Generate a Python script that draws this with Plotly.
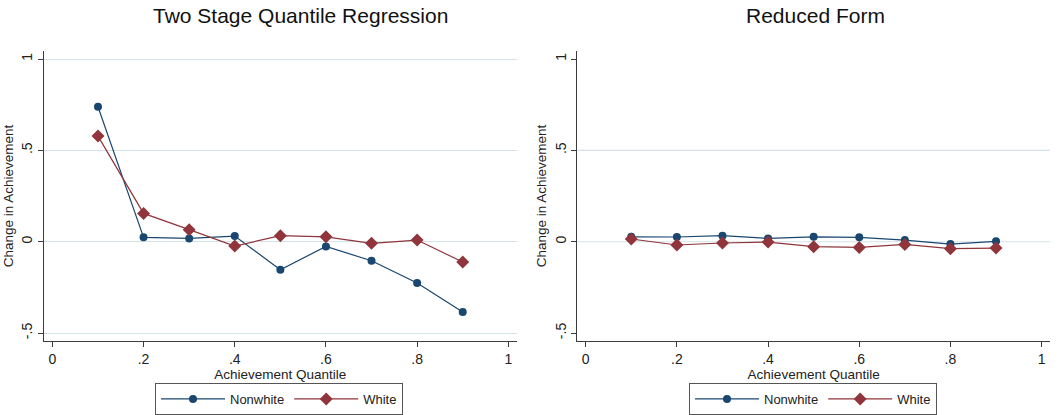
import plotly.graph_objects as go

QUANTILES = [0.1, 0.2, 0.3, 0.4, 0.5, 0.6, 0.7, 0.8, 0.9]

# Two Stage Quantile Regression
TSQR_NONWHITE = [0.739, 0.024, 0.018, 0.031, -0.153, -0.026, -0.104, -0.226, -0.385]
TSQR_WHITE = [0.578, 0.155, 0.066, -0.024, 0.033, 0.027, -0.009, 0.009, -0.111]

# Reduced Form
RF_NONWHITE = [0.027, 0.026, 0.033, 0.018, 0.027, 0.024, 0.009, -0.013, 0.002]
RF_WHITE = [0.015, -0.018, -0.007, -0.002, -0.027, -0.031, -0.015, -0.038, -0.035]

TITLES = ["Two Stage Quantile Regression", "Reduced Form"]
X_TICKS = [0, 0.2, 0.4, 0.6, 0.8, 1]
X_TICK_TEXT = ["0", ".2", ".4", ".6", ".8", "1"]
Y_TICKS = [-0.5, 0, 0.5, 1]
Y_TICK_TEXT = ["-.5", "0", ".5", "1"]
RIGHT_GRID = [0, 0.5]

NAVY = "#1a476f"
MAROON = "#90353b"
GRID = "#d3e3e7"
AXIS = "#3c3c3c"
FONT = "Liberation Sans, Arial, Helvetica, sans-serif"

fig = go.Figure()

panels = [
    ("x", "y", "legend", TSQR_NONWHITE, TSQR_WHITE),
    ("x2", "y2", "legend2", RF_NONWHITE, RF_WHITE),
]
for xa, ya, lg, nw, wh in panels:
    fig.add_trace(go.Scatter(
        x=QUANTILES, y=nw, name="Nonwhite", mode="lines+markers",
        line=dict(color=NAVY, width=1.2),
        marker=dict(symbol="circle", size=8, color=NAVY),
        xaxis=xa, yaxis=ya, legend=lg))
    fig.add_trace(go.Scatter(
        x=QUANTILES, y=wh, name="White", mode="lines+markers",
        line=dict(color=MAROON, width=1.2),
        marker=dict(symbol="diamond", size=10, color=MAROON),
        xaxis=xa, yaxis=ya, legend=lg))

xdomains = [[44 / 1059, 516.7 / 1059], [577.3 / 1059, 1050 / 1059]]
ydomain = [1 - 341.3 / 415, 1 - 50.8 / 415]

xcommon = dict(
    range=[-0.0184, 1.0184], tickmode="array", tickvals=X_TICKS, ticktext=X_TICK_TEXT,
    showline=True, linecolor=AXIS, linewidth=1.3, ticks="outside", ticklen=5,
    tickcolor=AXIS, tickwidth=1.2, showgrid=False, zeroline=False, automargin=False,
    tickfont=dict(size=14, color="#222"),
    title=dict(text="Achievement Quantile", font=dict(size=13.5, color="#222"), standoff=0),
)
ycommon = dict(
    range=[-0.545, 1.045], tickmode="array", tickvals=Y_TICKS, ticktext=Y_TICK_TEXT,
    tickangle=-90, showline=True, linecolor=AXIS, linewidth=1.3, ticks="outside",
    ticklen=5, tickcolor=AXIS, tickwidth=1.2, zeroline=False, automargin=False,
    tickfont=dict(size=14, color="#222"),
    title=dict(text="Change in Achievement", font=dict(size=13.5, color="#222"), standoff=2),
    gridcolor=GRID, gridwidth=1.2,
)

legcommon = dict(orientation="h", xanchor="center", y=1 - 383 / 415, yanchor="top",
                 bordercolor="#555", borderwidth=1, font=dict(size=13, color="#222"),
                 itemwidth=64, bgcolor="white")

fig.update_layout(
    width=1059, height=415,
    margin=dict(l=0, r=0, t=0, b=0),
    paper_bgcolor="white", plot_bgcolor="white",
    font=dict(family=FONT, color="#222"),
    showlegend=True,
    xaxis=dict(domain=xdomains[0], anchor="y", **xcommon),
    xaxis2=dict(domain=xdomains[1], anchor="y2", **xcommon),
    yaxis=dict(domain=ydomain, anchor="x", showgrid=True, **ycommon),
    yaxis2=dict(domain=ydomain, anchor="x2", showgrid=False, **ycommon),
    legend=dict(x=279 / 1059, **legcommon),
    legend2=dict(x=813 / 1059, **legcommon),
    annotations=[
        dict(text=TITLES[0], x=300 / 1059, y=1 - 16 / 415, xref="paper", yref="paper",
             xanchor="center", yanchor="middle", showarrow=False,
             font=dict(size=21, color="#111")),
        dict(text=TITLES[1], x=815 / 1059, y=1 - 16 / 415, xref="paper", yref="paper",
             xanchor="center", yanchor="middle", showarrow=False,
             font=dict(size=21, color="#111")),
    ],
)

for v in RIGHT_GRID:
    fig.add_shape(type="line", xref="x2 domain", yref="y2", x0=0, x1=1, y0=v, y1=v,
                  line=dict(color=GRID, width=1.2), layer="below")

fig.write_html("out.html", config={"displayModeBar": False},
               post_script="document.body.style.margin='0';")
